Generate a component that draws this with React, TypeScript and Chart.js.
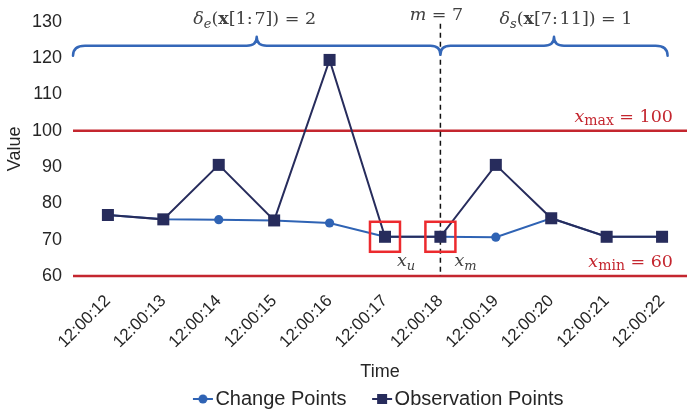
import React, { useEffect, useRef } from 'react';
import { Chart, registerables } from 'chart.js';

Chart.register(...registerables);

// ---------- data ----------
const TIME_LABELS = [
  '12:00:12', '12:00:13', '12:00:14', '12:00:15', '12:00:16', '12:00:17',
  '12:00:18', '12:00:19', '12:00:20', '12:00:21', '12:00:22',
];
const CHANGE_POINTS = [76.8, 75.6, 75.5, 75.3, 74.6, 70.8, 70.8, 70.7, 75.9, 70.8, 70.8];
const OBSERVATION_POINTS = [76.8, 75.6, 90.6, 75.3, 119.5, 70.8, 70.8, 90.6, 75.9, 70.8, 70.8];
const Y_MIN = 60;
const Y_MAX = 130;
const Y_STEP = 10;
const X_MAX_VALUE = 100;
const X_MIN_VALUE = 60;
const SPLIT_INDEX = 6; // m = 7
const XU_INDEX = 5;
const XM_INDEX = 6;
const X_RANGE = [-0.63, 10.45];
const BRACE_END = 10.1;

// ---------- styles ----------
const NAVY = '#272c5c';
const BLUE = '#2f63b4';
const BRACE = '#3467b8';
const RED_LINE = '#c4262f';
const RED_BOX = '#ec2a2e';
const TEXT = '#262626';
const MATH_TEXT = '#404040';
const SANS = '"Liberation Sans", Arial, sans-serif';
const SERIF = '"DejaVu Serif", serif';

type Run = { t: string; f: string; dy?: number };

function drawRuns(ctx: CanvasRenderingContext2D, runs: Run[], x: number, y: number, align: 'left' | 'center' | 'right', color: string) {
  ctx.save();
  ctx.fillStyle = color;
  ctx.textBaseline = 'alphabetic';
  ctx.textAlign = 'left';
  const widths = runs.map((r) => { ctx.font = r.f; return ctx.measureText(r.t).width; });
  const total = widths.reduce((a, b) => a + b, 0);
  let cx = align === 'left' ? x : align === 'center' ? x - total / 2 : x - total;
  runs.forEach((r, i) => {
    ctx.font = r.f;
    ctx.fillText(r.t, cx, y + (r.dy || 0));
    cx += widths[i];
  });
  ctx.restore();
}

const MS = 17.5;
const it = `italic ${MS}px ${SERIF}`;
const up = `${MS}px ${SERIF}`;
const bd = `bold ${MS}px ${SERIF}`;
const subIt = `italic 13px ${SERIF}`;
const subUp = `14px ${SERIF}`;

function makeLegendIcon(kind: 'circle' | 'square', color: string) {
  const c = document.createElement('canvas');
  c.width = 44;
  c.height = 14;
  const g = c.getContext('2d')!;
  const x0 = 14;
  const x1 = 34;
  g.strokeStyle = color;
  g.lineWidth = 2;
  g.beginPath();
  g.moveTo(x0, 7);
  g.lineTo(x1, 7);
  g.stroke();
  g.fillStyle = color;
  const cx = (x0 + x1) / 2;
  if (kind === 'circle') {
    g.beginPath();
    g.arc(cx, 7, 4.5, 0, Math.PI * 2);
    g.fill();
  } else {
    g.fillRect(cx - 5, 2, 10, 10);
  }
  return c;
}

const annotations = {
  id: 'annotations',
  beforeDatasetsDraw(chart: any) {
    const { ctx, chartArea, scales } = chart;
    const xs = scales.x;
    const ys = scales.y;
    ctx.save();
    // threshold lines
    ctx.strokeStyle = RED_LINE;
    ctx.lineWidth = 2.5;
    [X_MAX_VALUE, X_MIN_VALUE].forEach((v) => {
      const py = ys.getPixelForValue(v);
      ctx.beginPath();
      ctx.moveTo(chartArea.left, py);
      ctx.lineTo(chart.width, py);
      ctx.stroke();
    });
    // dashed split line
    const sx = xs.getPixelForValue(SPLIT_INDEX);
    ctx.strokeStyle = '#111';
    ctx.lineWidth = 1.5;
    ctx.setLineDash([5, 4]);
    ctx.beginPath();
    ctx.moveTo(sx, chartArea.top + 2);
    ctx.lineTo(sx, ys.getPixelForValue(X_MIN_VALUE));
    ctx.stroke();
    ctx.setLineDash([]);
    ctx.restore();
  },
  afterDatasetsDraw(chart: any) {
    const { ctx, chartArea, scales } = chart;
    const xs = scales.x;
    const ys = scales.y;
    const top = chartArea.top;
    const left = chartArea.left;
    const sx = xs.getPixelForValue(SPLIT_INDEX);
    const rx = xs.getPixelForValue(BRACE_END);
    const tipL = (left + sx) / 2;
    const tipR = (sx + rx) / 2;
    const yl = top + 24;
    const yEnd = top + 34;
    const yTip = top + 15;
    const yJ = top + 33;
    ctx.save();
    // braces
    ctx.strokeStyle = BRACE;
    ctx.lineWidth = 2.5;
    ctx.lineCap = 'round';
    ctx.lineJoin = 'round';
    ctx.beginPath();
    ctx.moveTo(left, yEnd);
    ctx.quadraticCurveTo(left, yl, left + 12, yl);
    ctx.lineTo(tipL - 10, yl);
    ctx.quadraticCurveTo(tipL, yl, tipL, yTip);
    ctx.quadraticCurveTo(tipL, yl, tipL + 10, yl);
    ctx.lineTo(sx - 10, yl);
    ctx.quadraticCurveTo(sx, yl, sx, yJ);
    ctx.quadraticCurveTo(sx, yl, sx + 10, yl);
    ctx.lineTo(tipR - 10, yl);
    ctx.quadraticCurveTo(tipR, yl, tipR, yTip);
    ctx.quadraticCurveTo(tipR, yl, tipR + 10, yl);
    ctx.lineTo(rx - 12, yl);
    ctx.quadraticCurveTo(rx, yl, rx, yEnd);
    ctx.stroke();

    // highlight boxes
    ctx.strokeStyle = RED_BOX;
    ctx.lineWidth = 2.5;
    ctx.lineCap = 'butt';
    ctx.lineJoin = 'miter';
    [XU_INDEX, XM_INDEX].forEach((i) => {
      const px = xs.getPixelForValue(i);
      const py = ys.getPixelForValue(OBSERVATION_POINTS[i]);
      ctx.strokeRect(px - 15, py - 15, 30, 30);
    });
    ctx.restore();

    // math labels
    drawRuns(ctx, [
      { t: 'δ', f: it }, { t: 'e', f: subIt, dy: 4 }, { t: '(', f: up }, { t: 'x', f: bd },
      { t: '[1:\u200a7]) = 2', f: up },
    ], tipL - 2, top + 2, 'center', MATH_TEXT);
    drawRuns(ctx, [
      { t: 'm', f: it }, { t: ' = 7', f: up },
    ], sx - 4, top - 2, 'center', MATH_TEXT);
    drawRuns(ctx, [
      { t: 'δ', f: it }, { t: 's', f: subIt, dy: 4 }, { t: '(', f: up }, { t: 'x', f: bd },
      { t: '[7:\u200a11]) = 1', f: up },
    ], tipR + 12, top + 2, 'center', MATH_TEXT);

    const maxY = ys.getPixelForValue(X_MAX_VALUE);
    const minY = ys.getPixelForValue(X_MIN_VALUE);
    const rightEdge = chart.width - 14;
    drawRuns(ctx, [
      { t: 'x', f: it }, { t: 'max', f: subUp, dy: 3 }, { t: ' = 100', f: up },
    ], rightEdge, maxY - 9, 'right', RED_LINE);
    drawRuns(ctx, [
      { t: 'x', f: it }, { t: 'min', f: subUp, dy: 3 }, { t: ' = 60', f: up },
    ], rightEdge, minY - 9, 'right', RED_LINE);

    const xuX = xs.getPixelForValue(XU_INDEX);
    const xmX = xs.getPixelForValue(XM_INDEX);
    const labY = minY - 10;
    drawRuns(ctx, [{ t: 'x', f: it }, { t: 'u', f: subIt, dy: 4 }], xuX + 12, labY, 'left', MATH_TEXT);
    drawRuns(ctx, [{ t: 'x', f: it }, { t: 'm', f: subIt, dy: 4 }], xmX + 14, labY, 'left', MATH_TEXT);
  },
};

export default function App() {
  const ref = useRef<HTMLCanvasElement | null>(null);
  useEffect(() => {
    document.body.style.margin = '0';
    const canvas = ref.current!;
    const icons = [makeLegendIcon('circle', BLUE), makeLegendIcon('square', NAVY)];
    const chart = new Chart(canvas, {
      type: 'line',
      data: {
        datasets: [
          {
            label: 'Change Points',
            data: CHANGE_POINTS.map((v, i) => ({ x: i, y: v })),
            borderColor: BLUE,
            backgroundColor: BLUE,
            borderWidth: 2,
            pointStyle: 'circle',
            pointRadius: 4.6,
            pointBorderWidth: 0,
            order: 1,
            clip: false,
          },
          {
            label: 'Observation Points',
            data: OBSERVATION_POINTS.map((v, i) => ({ x: i, y: v })),
            borderColor: NAVY,
            backgroundColor: NAVY,
            borderWidth: 2,
            pointStyle: 'rect',
            pointRadius: 8.5,
            pointBorderWidth: 0,
            order: 0,
            clip: false,
          },
        ],
      },
      options: {
        responsive: false,
        animation: false,
        layout: { autoPadding: false, padding: { top: 18, right: 0, bottom: -3, left: 0 } },
        scales: {
          x: {
            type: 'linear',
            min: X_RANGE[0],
            max: X_RANGE[1],
            grid: { display: false, drawTicks: false },
            border: { display: false },
            afterFit: (s: any) => { s.height = 84; s.paddingLeft = 0; s.paddingRight = 0; },
            ticks: {
              stepSize: 1,
              includeBounds: false,
              autoSkip: false,
              minRotation: 45,
              maxRotation: 45,
              padding: 15,
              color: TEXT,
              font: { family: SANS, size: 17 },
              callback: (v: any) => (Number.isInteger(v) && TIME_LABELS[v] ? TIME_LABELS[v] : ''),
            },
            title: {
              display: true,
              text: 'Time',
              color: TEXT,
              font: { family: SANS, size: 18 },
              padding: { top: 0, bottom: -23 },
            },
          },
          y: {
            min: Y_MIN,
            max: Y_MAX,
            grid: { display: false, drawTicks: false },
            border: { display: false },
            afterFit: (s: any) => { s.width = 73; },
            ticks: {
              stepSize: Y_STEP,
              padding: 11,
              color: TEXT,
              font: { family: SANS, size: 18 },
            },
            title: {
              display: true,
              text: 'Value',
              color: TEXT,
              font: { family: SANS, size: 18 },
              padding: { top: 4, bottom: 4 },
            },
          },
        },
        plugins: {
          tooltip: { enabled: false },
          legend: {
            position: 'bottom',
            fullSize: false,
            labels: {
              usePointStyle: true,
              pointStyleWidth: 9,
              padding: 29,
              color: TEXT,
              font: { family: SANS, size: 20 },
              sort: (a: any, b: any) => a.datasetIndex - b.datasetIndex,
              generateLabels: (ch: any) => {
                const items = Chart.defaults.plugins.legend.labels.generateLabels(ch);
                items.forEach((item: any) => { item.pointStyle = icons[item.datasetIndex]; });
                return items;
              },
            },
          },
        },
      },
      plugins: [annotations],
    } as any);
    return () => chart.destroy();
  }, []);
  return <canvas ref={ref} width={687} height={416} style={{ display: 'block' }} />;
}
